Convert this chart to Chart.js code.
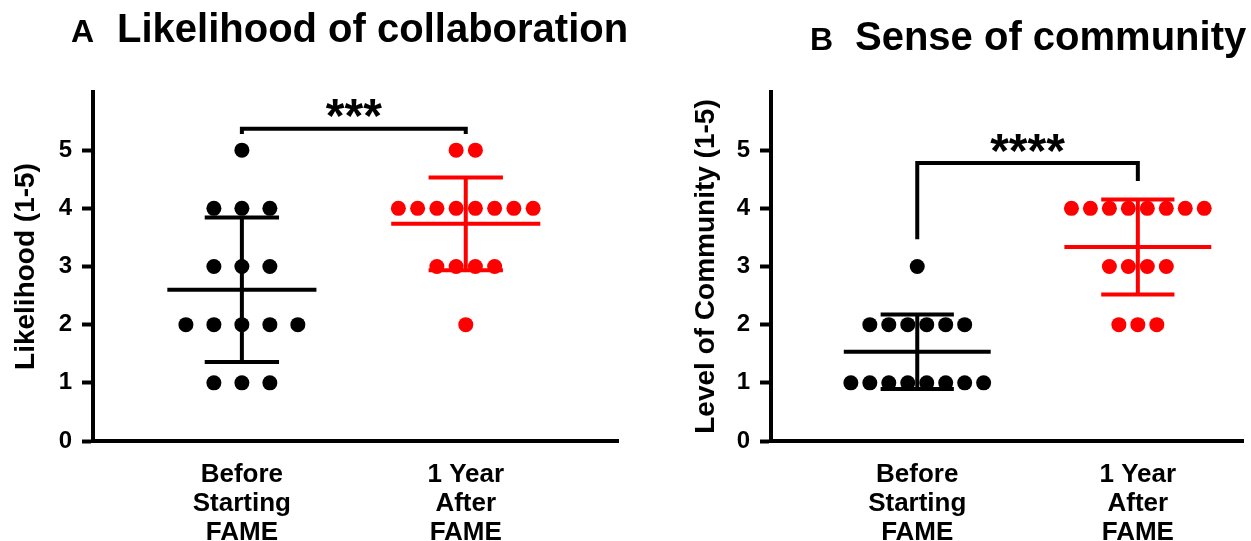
<!DOCTYPE html>
<html>
<head>
<meta charset="utf-8">
<script src="https://cdn.jsdelivr.net/npm/chart.js@4.4.0/dist/chart.umd.min.js"></script>
<style>
    html, body { margin: 0; padding: 0; background: #fff; }
    #wrap { position: relative; width: 1251px; height: 541px; overflow: hidden; font-family: "Liberation Sans", Arial, sans-serif; }
    canvas { position: absolute; top: 0; }
    #chartA { left: 0; }
    #chartB { left: 640px; }
    .ttl { position: absolute; font-weight: bold; color: #000; white-space: nowrap; line-height: 1; }
</style>
</head>
<body>
<div id="wrap">
    <canvas id="chartA" width="640" height="541"></canvas>
    <canvas id="chartB" width="611" height="541"></canvas>
    <div class="ttl" style="left:71px; top:15px; font-size:32px;">A</div>
    <div class="ttl" style="left:117px; top:8px; font-size:40px;">Likelihood of collaboration</div>
    <div class="ttl" style="left:810px; top:23px; font-size:32px;">B</div>
    <div class="ttl" style="left:855px; top:16px; font-size:40px;">Sense of community</div>
</div>
<script>
// ===================== DATA =====================

const catLabels = [['Before', 'Starting', 'FAME'], ['1 Year', 'After', 'FAME']];
const yTicks = [0, 1, 2, 3, 4, 5];

// one score per respondent (1-5)
const likeBefore = [5, 4, 4, 4, 3, 3, 3, 2, 2, 2, 2, 2, 1, 1, 1];
const likeAfter  = [5, 5, 4, 4, 4, 4, 4, 4, 4, 4, 3, 3, 3, 3, 2];
const commBefore = [3, 2, 2, 2, 2, 2, 2, 1, 1, 1, 1, 1, 1, 1, 1];
const commAfter  = [4, 4, 4, 4, 4, 4, 4, 4, 3, 3, 3, 3, 2, 2, 2];

// significance brackets: [panel A, panel B]
const sigLabels   = ['***', '****'];
const sigBarY     = [5.37, 4.78];
const sigLegLeft  = [5.28, 3.47];
const sigLegRight = [5.28, 4.47];
const sigTextY    = [5.78, 5.18];

// ===================== HELPERS =====================

const FONT = '"Liberation Sans", Arial, sans-serif';
const BLACK = '#000000';
const RED = '#ff0000';

// spread equal scores side by side around the category centre
function swarm(vals, cat, step) {
    const counts = {}, seen = {};
    vals.forEach(v => counts[v] = (counts[v] || 0) + 1);
    return vals.map(v => {
        seen[v] = seen[v] === undefined ? 0 : seen[v] + 1;
        return { x: cat + (seen[v] - (counts[v] - 1) / 2) * step, y: v };
    });
}

function stats(vals) {
    const n = vals.length;
    const mean = vals.reduce((a, b) => a + b, 0) / n;
    const sd = Math.sqrt(vals.reduce((a, b) => a + (b - mean) * (b - mean), 0) / (n - 1));
    return { mean, sd };
}

function group(vals, cat, step, color) {
    return {
        data: swarm(vals, cat, step),
        cat: cat,
        stats: stats(vals),
        backgroundColor: color,
        borderWidth: 0,
        pointRadius: 7.5,
        pointHoverRadius: 7.5
    };
}

// mean line + SD whiskers, drawn over the dots
const errorBars = {
    id: 'errorBars',
    afterDatasetsDraw(chart) {
        const { ctx, scales: { x, y } } = chart;
        ctx.save();
        ctx.lineWidth = 4;
        chart.data.datasets.forEach(ds => {
            const { mean, sd } = ds.stats;
            const cx = x.getPixelForValue(ds.cat);
            const half = x.getPixelForValue(ds.cat + 0.333) - cx;
            const cap = x.getPixelForValue(ds.cat + 0.166) - cx;
            const yMean = y.getPixelForValue(mean);
            const yTop = y.getPixelForValue(mean + sd);
            const yBot = y.getPixelForValue(mean - sd);
            ctx.strokeStyle = ds.backgroundColor;
            ctx.beginPath();
            ctx.moveTo(cx - half, yMean); ctx.lineTo(cx + half, yMean);
            ctx.moveTo(cx, yTop); ctx.lineTo(cx, yBot);
            ctx.moveTo(cx - cap, yTop); ctx.lineTo(cx + cap, yTop);
            ctx.moveTo(cx - cap, yBot); ctx.lineTo(cx + cap, yBot);
            ctx.stroke();
        });
        ctx.restore();
    }
};

// significance bracket with stars
const sigBracket = {
    id: 'sigBracket',
    afterDraw(chart, args, opts) {
        const i = opts.index;
        const { ctx, scales: { x, y } } = chart;
        const x1 = x.getPixelForValue(1), x2 = x.getPixelForValue(2);
        ctx.save();
        ctx.strokeStyle = BLACK;
        ctx.lineWidth = 4;
        ctx.lineCap = 'butt';
        ctx.lineJoin = 'miter';
        ctx.beginPath();
        ctx.moveTo(x1, y.getPixelForValue(sigLegLeft[i]));
        ctx.lineTo(x1, y.getPixelForValue(sigBarY[i]));
        ctx.lineTo(x2, y.getPixelForValue(sigBarY[i]));
        ctx.lineTo(x2, y.getPixelForValue(sigLegRight[i]));
        ctx.stroke();
        ctx.fillStyle = BLACK;
        ctx.font = 'bold 48px ' + FONT;
        ctx.textAlign = 'center';
        ctx.textBaseline = 'alphabetic';
        ctx.fillText(sigLabels[i], (x1 + x2) / 2, y.getPixelForValue(sigTextY[i]) + 27);
        ctx.restore();
    }
};

function makeChart(id, cfg) {
    return new Chart(document.getElementById(id), {
        type: 'scatter',
        data: { datasets: cfg.datasets },
        plugins: [errorBars, sigBracket],
        options: {
            responsive: false,
            animation: false,
            events: [],
            layout: { padding: { top: 92, right: cfg.padRight, left: 0, bottom: 0 } },
            plugins: {
                legend: { display: false },
                tooltip: { enabled: false },
                sigBracket: { index: cfg.sigIndex }
            },
            scales: {
                x: {
                    type: 'linear',
                    min: cfg.xMin,
                    max: cfg.xMax,
                    afterBuildTicks: s => { s.ticks = [{ value: 1 }, { value: 2 }]; },
                    afterFit: s => { s.height = 100; },
                    ticks: {
                        autoSkip: false,
                        maxRotation: 0,
                        padding: 20,
                        color: BLACK,
                        font: { family: FONT, size: 26, weight: 'bold', lineHeight: 1.1 },
                        callback: v => catLabels[v - 1]
                    },
                    grid: { display: false, drawTicks: false },
                    border: { display: true, color: BLACK, width: 4 }
                },
                y: {
                    min: 0,
                    max: 6,
                    afterBuildTicks: s => { s.ticks = yTicks.concat([6]).map(v => ({ value: v })); },
                    afterFit: s => { s.width = cfg.yWidth; },
                    ticks: {
                        padding: 10,
                        color: BLACK,
                        font: { family: FONT, size: 24, weight: 'bold' },
                        callback: v => (yTicks.includes(v) ? String(v) : '')
                    },
                    grid: {
                        drawOnChartArea: false,
                        drawTicks: true,
                        tickLength: 11,
                        tickWidth: 4,
                        tickColor: c => (c.tick && yTicks.includes(c.tick.value) ? BLACK : 'rgba(0,0,0,0)')
                    },
                    border: { display: true, color: BLACK, width: 4 },
                    title: {
                        display: true,
                        text: cfg.yTitle,
                        color: BLACK,
                        font: { family: FONT, size: 28, weight: 'bold' },
                        padding: { top: cfg.yTitlePad, bottom: 0 }
                    }
                }
            }
        }
    });
}

// ===================== PANELS =====================

makeChart('chartA', {
    datasets: [
        group(likeBefore, 1, 0.125, BLACK),
        group(likeAfter, 2, 0.086, RED)
    ],
    xMin: 0.335, xMax: 2.68,
    yWidth: 93, padRight: 22,
    yTitle: 'Likelihood (1-5)', yTitlePad: 9,
    sigIndex: 0
});

makeChart('chartB', {
    datasets: [
        group(commBefore, 1, 0.086, BLACK),
        group(commAfter, 2, 0.086, RED)
    ],
    xMin: 0.337, xMax: 2.479,
    yWidth: 131, padRight: 1,
    yTitle: 'Level of Community (1-5)', yTitlePad: 49,
    sigIndex: 1
});
</script>
</body>
</html>
